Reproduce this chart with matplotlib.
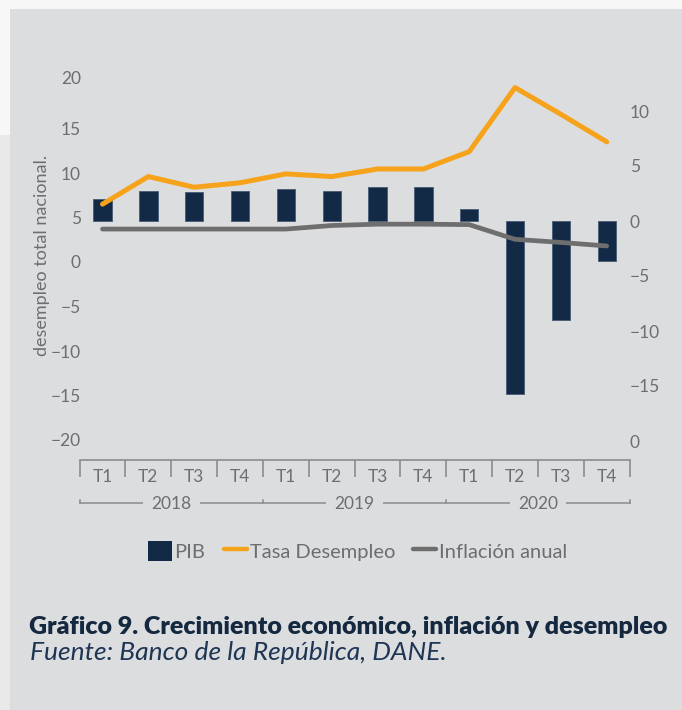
import matplotlib
matplotlib.use("Agg")
import matplotlib.pyplot as plt
import matplotlib.transforms as mtransforms
from matplotlib.patches import Patch, Rectangle
from matplotlib.lines import Line2D

# ---------------- data ----------------
quarters = ['T1', 'T2', 'T3', 'T4', 'T1', 'T2', 'T3', 'T4', 'T1', 'T2', 'T3', 'T4']
years = ['2018', '2019', '2020']
pib = [2.0, 2.75, 2.6, 2.75, 2.9, 2.75, 3.05, 3.05, 1.05, -15.7, -9.0, -3.6]
desempleo = [6.5, 9.6, 8.4, 8.9, 9.9, 9.6, 10.45, 10.45, 12.4, 19.6, 16.6, 13.5]
inflacion = [3.7, 3.7, 3.7, 3.7, 3.7, 4.1, 4.25, 4.25, 4.2, 2.55, 2.2, 1.8]
left_ticks = [20, 15, 10, 5, 0, -5, -10, -15, -20]
right_ticks = [10, 5, 0, -5, -10, -15, -20]
right_labels = ['10', '5', '0', '\u22125', '\u221210', '\u221215', '0']
title = 'Gráfico 9. Crecimiento económico, inflación y desempleo'
subtitle = 'Fuente: Banco de la República, DANE.'
ylabel = 'desempleo total nacional.'

# ---------------- style ----------------
W, H = 682, 710
PANEL = '#dcdddf'
NAVY = '#122a45'
ORANGE = '#f6a31b'
GRAYLINE = '#6e6e6f'
TXT = '#6d6e70'
AXC = '#8c8c8c'
FONT = ['Lato', 'DejaVu Sans']
plt.rcParams['font.family'] = FONT
TS = 12.5

fig = plt.figure(figsize=(W / 100, H / 100), dpi=100, facecolor=PANEL)

def fx(px):
    return px / W

def fy(py):
    return 1 - py / H

# outer light strips
fig.patches.append(Rectangle((0, fy(9)), 1, 9 / H, transform=fig.transFigure,
                             facecolor='#f7f7f7', edgecolor='none', zorder=-10))
fig.patches.append(Rectangle((0, fy(135)), fx(10), (135 - 9) / H, transform=fig.transFigure,
                             facecolor='#f7f7f7', edgecolor='none', zorder=-10))
fig.patches.append(Rectangle((0, 0), fx(10), fy(135), transform=fig.transFigure,
                             facecolor='#e9e9ea', edgecolor='none', zorder=-10))

x0, x1 = 79.6, 629.6
top_px, bot_px = 60, 460
ax = fig.add_axes([fx(x0), fy(bot_px), (x1 - x0) / W, (bot_px - top_px) / H])
ax.patch.set_visible(False)
ax2 = ax.twinx()
ax2.patch.set_visible(False)

n = len(quarters)
x = list(range(n))

# bars on right axis (ax), lines on left axis (ax2, drawn on top)
ax.bar(x, pib, width=0.40, color=NAVY, edgecolor='#4d6079', linewidth=0.7)
ax.set_xlim(-0.5, n - 0.5)
ax.set_ylim((221 - bot_px) / 11.0, (221 - top_px) / 11.0)
ax.yaxis.tick_right()
ax.set_yticks(right_ticks)
ax.set_yticklabels(right_labels)
ax.tick_params(axis='y', length=0, pad=0, labelsize=TS, labelcolor=TXT)

ax2.plot(x, inflacion, color=GRAYLINE, lw=3.4, solid_capstyle='round', solid_joinstyle='round', zorder=3)
ax2.plot(x, desempleo, color=ORANGE, lw=3.6, solid_capstyle='round', solid_joinstyle='round', zorder=4)
ax2.set_ylim((262 - bot_px) / 8.9, (262 - top_px) / 8.9)
ax2.yaxis.tick_left()
ax2.set_yticks(left_ticks)
ax2.set_yticklabels(['' if t == 20 else ('\u2212' + str(-t) if t < 0 else str(t)) for t in left_ticks])
ax2.tick_params(axis='y', length=0, pad=-1, labelsize=TS, labelcolor=TXT)
# top label drawn slightly higher, as in the reference
off = mtransforms.offset_copy(mtransforms.blended_transform_factory(ax2.transAxes, ax2.transData),
                              fig=fig, x=1.4, y=5, units='dots')
ax2.text(0, 20, '20', transform=off, ha='right', va='center', fontsize=TS, color=TXT)

for a in (ax, ax2):
    for s in a.spines.values():
        s.set_visible(False)
ax.spines['bottom'].set_visible(True)
ax.spines['bottom'].set_color(AXC)
ax.spines['bottom'].set_linewidth(1.2)

# category axis
ax.set_xticks(x)
ax.set_xticklabels(quarters)
ax.set_xticks([i - 0.5 for i in range(n + 1)], minor=True)
ax.tick_params(axis='x', which='major', length=0, pad=6.5, labelsize=TS, labelcolor=TXT)
ax.tick_params(axis='x', which='minor', length=12.2, width=1.2, color=AXC, direction='out')

# year row
bt = mtransforms.blended_transform_factory(ax.transData, fig.transFigure)
ax.plot([-0.5, n - 0.5], [fy(503), fy(503)], transform=bt, color=AXC, lw=1.1, clip_on=False)
for b in range(0, n + 1, 4):
    ax.plot([b - 0.5, b - 0.5], [fy(503), fy(500)], transform=bt, color=AXC, lw=1.1, clip_on=False)
for k, yr in enumerate(years):
    ax.text(4 * k + 1.5, fy(504), yr, transform=bt, ha='center', va='center', fontsize=TS,
            color=TXT, bbox=dict(facecolor=PANEL, edgecolor='none', pad=6), clip_on=False)

fig.text(fx(42), fy(255), ylabel, rotation=90, ha='center', va='center', fontsize=13, color=TXT)

# legend
handles = [Patch(facecolor=NAVY, edgecolor='none'),
           Line2D([], [], color=ORANGE, lw=3.2, solid_capstyle='round'),
           Line2D([], [], color=GRAYLINE, lw=3.2, solid_capstyle='round')]
fig.legend(handles, ['PIB', 'Tasa Desempleo', 'Inflación anual'], loc='center',
           bbox_to_anchor=(fx(358), fy(551)), ncol=3, frameon=False, fontsize=14.5,
           handlelength=1.15, handleheight=1.15, handletextpad=0.15, columnspacing=0.9,
           labelcolor=TXT)

# title / source, fitted to the reference widths
renderer = fig.canvas.get_renderer()
t1 = fig.text(fx(29), fy(627), title, ha='left', va='center', fontsize=14, fontweight='heavy',
              color='#14283f')
w = t1.get_window_extent(renderer).width
t1.set_fontsize(14 * 639 / w)
t2 = fig.text(fx(29.6), fy(652), subtitle, ha='left', va='center', fontsize=12, style='italic',
              color='#1e3553')
w = t2.get_window_extent(renderer).width
t2.set_fontsize(12 * 415 / w)

fig.savefig('out.png', dpi=100, facecolor=fig.get_facecolor())
